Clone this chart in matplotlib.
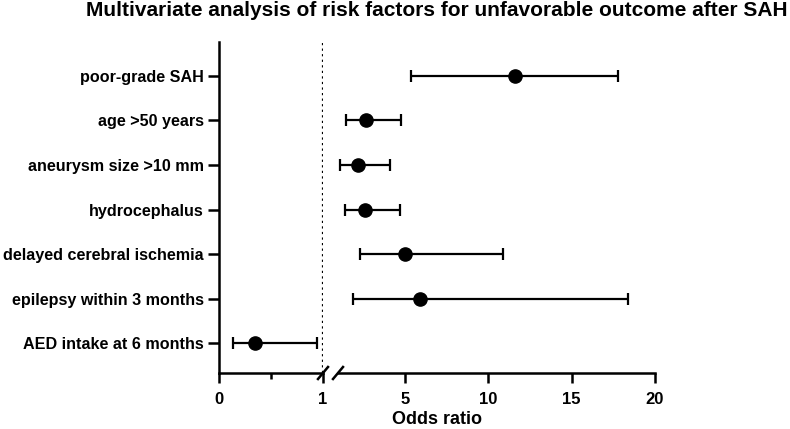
import matplotlib.pyplot as plt

plt.rcParams['font.family'] = ['Liberation Sans', 'DejaVu Sans']
plt.rcParams['font.weight'] = 'bold'

factors = ['poor-grade SAH', 'age >50 years', 'aneurysm size >10 mm', 'hydrocephalus',
           'delayed cerebral ischemia', 'epilepsy within 3 months', 'AED intake at 6 months']
odds = [11.6, 2.7, 2.2, 2.6, 5.0, 5.9, 0.35]
lower = [5.4, 1.5, 1.1, 1.4, 2.3, 1.9, 0.13]
upper = [17.8, 4.8, 4.1, 4.7, 10.9, 18.4, 0.94]

W, H = 790, 429
fig = plt.figure(figsize=(W / 100, H / 100), dpi=100)

bottom = 1 - 373 / H
top = 1 - 42 / H
ax1 = fig.add_axes([219 / W, bottom, (323 - 219) / W, top - bottom])
ax2 = fig.add_axes([338 / W, bottom, (655 - 338) / W, top - bottom])

ypos = list(range(len(factors) - 1, -1, -1))

for y, o, lo, hi in zip(ypos, odds, lower, upper):
    ax = ax1 if hi <= 1 else ax2
    ax.errorbar(o, y, xerr=[[o - lo], [hi - o]], fmt='o', color='black',
                markersize=9.5, elinewidth=1.6, capsize=4.5, capthick=1.6)

for ax in (ax1, ax2):
    ax.set_ylim(-0.67, 6.76)
    for s in ('top', 'right'):
        ax.spines[s].set_visible(False)
    ax.spines['bottom'].set_linewidth(1.8)
    ax.tick_params(axis='x', direction='out', length=7, width=1.8, labelsize=12, pad=7)
    ax.tick_params(axis='x', which='minor', direction='out', length=4, width=1.8)

ax1.set_xlim(0, 1)
ax1.set_xticks([0, 1])
ax1.set_xticklabels(['0', '1'])
ax1.set_xticks([0.5], minor=True)
ax1.axvline(1, color='black', linestyle=(0, (1, 1.5)), linewidth=1.6)
ax1.spines['left'].set_linewidth(1.8)
ax1.set_yticks(ypos)
ax1.set_yticklabels(factors, fontsize=11.6, fontweight='bold')
ax1.tick_params(axis='y', direction='out', length=8, width=1.8, pad=3)

ax2.set_xlim(1, 20)
ax2.set_xticks([5, 10, 15, 20])
ax2.spines['left'].set_visible(False)
ax2.set_yticks([])

for lbl in ax1.get_xticklabels() + ax2.get_xticklabels():
    lbl.set_fontweight('bold')

# break marks
yb = 1 - 373 / H
for xc in (323, 338):
    fig.add_artist(plt.Line2D([(xc - 5) / W, (xc + 5) / W], [yb - 6 / H, yb + 6 / H],
                              transform=fig.transFigure, color='black', linewidth=1.8))

fig.text(437 / W, 1 - 420 / H, 'Odds ratio', ha='center', va='center',
         fontsize=13, fontweight='bold')
fig.text(436.5 / W, 1 - 11 / H,
         'Multivariate analysis of risk factors for unfavorable outcome after SAH',
         ha='center', va='center', fontsize=15, fontweight='bold')

fig.savefig('out.png', dpi=100)
